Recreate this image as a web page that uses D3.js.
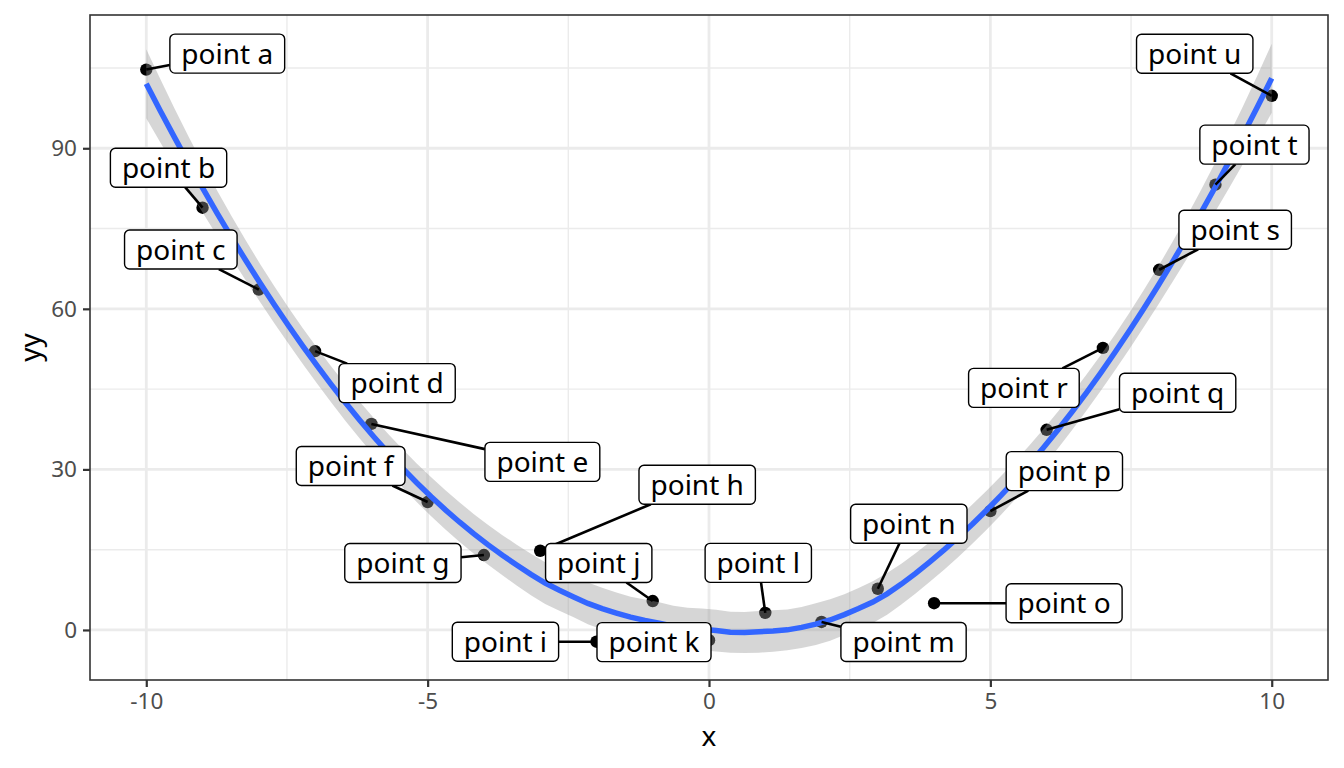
<!DOCTYPE html>
<html>
<head>
<meta charset="utf-8">
<script src="https://cdn.jsdelivr.net/npm/d3@7"></script>
<style>
  body { margin: 0; background: #fff; }
  svg { display: block; font-family: "Noto Sans", "Open Sans", sans-serif; }
</style>
</head>
<body>
<div id="chart"></div>
<script>
// data
const xs = [-10, -9, -8, -7, -6, -5, -4, -3, -2, -1, 0, 1, 2, 3, 4, 5, 6, 7, 8, 9, 10];
const yy = [104.7, 78.9, 63.6, 52.1, 38.5, 23.9, 14.0, 14.8, -2.2, 5.4, -1.9, 3.2, 1.5, 7.7, 5.0, 22.2, 37.4, 52.7, 67.3, 83.2, 99.8];
const names = ['a','b','c','d','e','f','g','h','i','j','k','l','m','n','o','p','q','r','s','t','u'].map(d => 'point ' + d);
const xTicks = [-10, -5, 0, 5, 10];
const yTicks = [0, 30, 60, 90];
const yDomain = [-9.35, 114.9];

// where the repelled labels ended up (pixel offset of box centre from its point)
const labelNudge = [
  [81, -16], [-34, -40], [-78, -40], [82, 32], [171, 38], [-77, -36], [-81, 8],
  [157, -66], [-91, 0], [-54, -38], [-55, 2], [-7, -50], [82, 20], [31, -65],
  [130, 0], [74, -40], [131, -37], [-79, 40], [76, -40], [39, -40], [-77, -42]
];

const width = 1344, height = 768;
const margin = {top: 15, right: 16, bottom: 88, left: 90};

// ---- loess (span .75, degree 2) like geom_smooth ----
const n = xs.length;
function loessRow(x0){
  const span = 0.75;
  const q = Math.floor(n * span);
  const dist = xs.map(x => Math.abs(x - x0));
  const h = dist.slice().sort((a, b) => a - b)[q - 1];
  const w = dist.map(d => d < h ? Math.pow(1 - Math.pow(d / h, 3), 3) : 0);
  const A = [[0,0,0],[0,0,0],[0,0,0]];
  for(let i = 0; i < n; i++){
    const u = xs[i] - x0, v = [1, u, u*u];
    for(let r = 0; r < 3; r++) for(let c = 0; c < 3; c++) A[r][c] += w[i]*v[r]*v[c];
  }
  const inv = inv3(A);
  return xs.map((x, i) => {
    const u = x - x0;
    return w[i] * (inv[0][0] + inv[0][1]*u + inv[0][2]*u*u);
  });
}
function inv3(m){
  const [a,b,c] = m[0], [d,e,f] = m[1], [g,h,k] = m[2];
  const A = e*k - f*h, B = -(d*k - f*g), C = d*h - e*g;
  const det = a*A + b*B + c*C;
  return [
    [A/det, -(b*k - c*h)/det, (b*f - c*e)/det],
    [B/det, (a*k - c*g)/det, -(a*f - c*d)/det],
    [C/det, -(a*h - b*g)/det, (a*e - b*d)/det]
  ];
}
const L = xs.map(x => loessRow(x));
const IL = L.map((row, i) => row.map((v, j) => (i === j ? 1 : 0) - v));
const M = xs.map((_, i) => xs.map((_, j) => d3.sum(IL, r => r[i]*r[j])));
const delta1 = d3.sum(M, (r, i) => r[i]);
const delta2 = d3.sum(M, (r, i) => d3.sum(r, (v, j) => v * M[j][i]));
const fitted = L.map(row => d3.sum(row, (v, j) => v*yy[j]));
const rss = d3.sum(yy, (v, i) => (v - fitted[i])**2);
const sigma = Math.sqrt(rss / delta1);
const df = delta1*delta1 / delta2;
function qt975(nu){
  const z = 1.959964;
  const g1 = (z**3 + z)/4;
  const g2 = (5*z**5 + 16*z**3 + 3*z)/96;
  const g3 = (3*z**7 + 19*z**5 + 17*z**3 - 15*z)/384;
  const g4 = (79*z**9 + 776*z**7 + 1482*z**5 - 1920*z**3 - 945*z)/92160;
  return z + g1/nu + g2/nu**2 + g3/nu**3 + g4/nu**4;
}
const tq = qt975(df);
const smooth = d3.range(80).map(k => {
  const x0 = -10 + 20*k/79;
  const row = loessRow(x0);
  const fit = d3.sum(row, (v, j) => v*yy[j]);
  const se = sigma*Math.sqrt(d3.sum(row, v => v*v));
  return {x: x0, y: fit, lo: fit - tq*se, hi: fit + tq*se};
});

// ---- scales ----
const xExt = d3.extent(xs);
const xPad = (xExt[1] - xExt[0]) * 0.05;
const x = d3.scaleLinear().domain([xExt[0] - xPad, xExt[1] + xPad]).range([margin.left, width - margin.right]);
const y = d3.scaleLinear().domain(yDomain).range([height - margin.bottom, margin.top]);

const svg = d3.select('#chart').append('svg').attr('width', width).attr('height', height);

// grid
const xMinor = d3.range(-7.5, 10, 5);
const yMinor = d3.range(15, 120, 30).filter(v => y(v) > margin.top);
const grid = svg.append('g');
grid.selectAll('.xminor').data(xMinor).join('line')
  .attr('x1', d => x(d)).attr('x2', d => x(d)).attr('y1', margin.top).attr('y2', height - margin.bottom)
  .attr('stroke', '#ebebeb').attr('stroke-width', 1.4);
grid.selectAll('.yminor').data(yMinor).join('line')
  .attr('y1', d => y(d)).attr('y2', d => y(d)).attr('x1', margin.left).attr('x2', width - margin.right)
  .attr('stroke', '#ebebeb').attr('stroke-width', 1.4);
grid.selectAll('.xmajor').data(xTicks).join('line')
  .attr('x1', d => x(d)).attr('x2', d => x(d)).attr('y1', margin.top).attr('y2', height - margin.bottom)
  .attr('stroke', '#ebebeb').attr('stroke-width', 2.8);
grid.selectAll('.ymajor').data(yTicks).join('line')
  .attr('y1', d => y(d)).attr('y2', d => y(d)).attr('x1', margin.left).attr('x2', width - margin.right)
  .attr('stroke', '#ebebeb').attr('stroke-width', 2.8);

// points
svg.append('g').selectAll('circle').data(xs).join('circle')
  .attr('cx', d => x(d)).attr('cy', (d, i) => y(yy[i])).attr('r', 6.2).attr('fill', '#000');

// smooth
svg.append('path').datum(smooth)
  .attr('d', d3.area().x(d => x(d.x)).y0(d => y(d.lo)).y1(d => y(d.hi)))
  .attr('fill', '#999999').attr('fill-opacity', 0.4);
svg.append('path').datum(smooth)
  .attr('d', d3.line().x(d => x(d.x)).y(d => y(d.y)))
  .attr('fill', 'none').attr('stroke', '#3366FF').attr('stroke-width', 5.5);

// labels
const labelG = svg.append('g');
const fontSize = 28, padX = 11.5, boxH = 39;
xs.forEach((xv, i) => {
  const px = x(xv), py = y(yy[i]);
  const cx = px + labelNudge[i][0], cy = py + labelNudge[i][1];
  const g = labelG.append('g');
  const seg = g.append('line');
  const rect = g.append('rect');
  const t = g.append('text').text(names[i])
    .attr('x', cx).attr('y', cy + fontSize*0.36)
    .attr('text-anchor', 'middle').attr('font-size', fontSize).attr('fill', '#000');
  const w = t.node().getComputedTextLength() + 2*padX;
  rect.attr('x', cx - w/2).attr('y', cy - boxH/2).attr('width', w).attr('height', boxH)
    .attr('rx', 5).attr('fill', '#fff').attr('stroke', '#000').attr('stroke-width', 1.4);
  // segment from point to box edge
  const dx = cx - px, dy = cy - py;
  const s = Math.min(Math.abs(dx) > 0 ? (w/2)/Math.abs(dx) : Infinity, Math.abs(dy) > 0 ? (boxH/2)/Math.abs(dy) : Infinity);
  if(s < 1){
    seg.attr('x1', px).attr('y1', py).attr('x2', cx - dx*s).attr('y2', cy - dy*s)
      .attr('stroke', '#000').attr('stroke-width', 2.6);
  }
});

// panel border
svg.append('rect').attr('x', margin.left).attr('y', margin.top)
  .attr('width', width - margin.left - margin.right).attr('height', height - margin.top - margin.bottom)
  .attr('fill', 'none').attr('stroke', '#333333').attr('stroke-width', 1.6);

// axes
const xAxis = svg.append('g').attr('transform', `translate(0,${height - margin.bottom})`)
  .call(d3.axisBottom(x).tickValues(xTicks).tickFormat(d => String(d)).tickSize(7).tickPadding(6));
const yAxis = svg.append('g').attr('transform', `translate(${margin.left},0)`)
  .call(d3.axisLeft(y).tickValues(yTicks).tickFormat(d => String(d)).tickSize(7).tickPadding(6));
[xAxis, yAxis].forEach(a => {
  a.select('.domain').remove();
  a.selectAll('line').attr('stroke', '#333333').attr('stroke-width', 2.2);
  a.selectAll('text').attr('fill', '#4d4d4d').attr('font-size', 22.5)
    .attr('font-family', '"Noto Sans", "Open Sans", sans-serif');
});

svg.append('text').text('x').attr('x', x(0)).attr('y', 746)
  .attr('text-anchor', 'middle').attr('font-size', 28).attr('fill', '#000');
svg.append('text').text('yy').attr('transform', `translate(40,${(margin.top + height - margin.bottom)/2}) rotate(-90)`)
  .attr('text-anchor', 'middle').attr('font-size', 28).attr('fill', '#000');
</script>
</body>
</html>
